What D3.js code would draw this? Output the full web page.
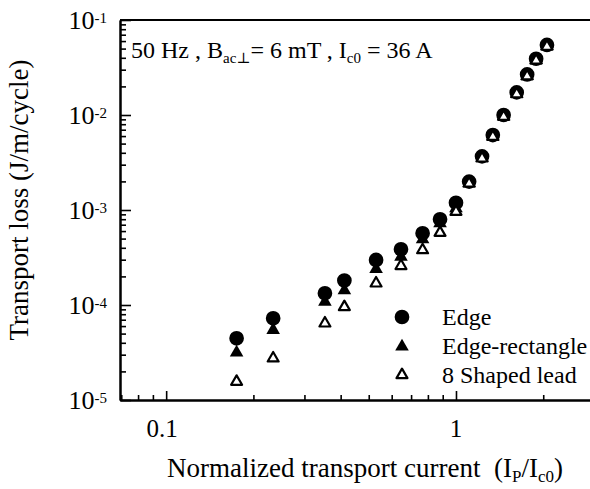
<!DOCTYPE html>
<html>
<head>
<meta charset="utf-8">
<script src="https://cdn.jsdelivr.net/npm/d3@7"></script>
<style>
  body { margin: 0; background: #fff; }
  svg { display: block; font-family: "Liberation Serif", "DejaVu Serif", serif; }
  text { white-space: pre; }
  .domain { stroke: #000; stroke-width: 2; }
  .tick line { stroke: #000; stroke-width: 1.6; }
</style>
</head>
<body>
<div id="chart"></div>
<script>
// normalized transport current Ip/Ic0
var current = [0.175, 0.234, 0.353, 0.412, 0.530, 0.646, 0.767, 0.881, 1.0,
               1.11, 1.23, 1.34, 1.46, 1.62, 1.76, 1.89, 2.06];
// transport loss, J/m/cycle
var edgeLoss = [4.46e-5, 7.24e-5, 1.33e-4, 1.81e-4, 2.98e-4, 3.86e-4, 5.69e-4, 7.98e-4, 1.19e-3,
                1.99e-3, 3.67e-3, 6.15e-3, 1.0e-2, 1.73e-2, 2.67e-2, 3.91e-2, 5.46e-2];
var rectLoss = [3.15e-5, 5.46e-5, 1.08e-4, 1.43e-4, 2.39e-4, 3.22e-4, 4.92e-4, 7.24e-4, 1.04e-3,
                1.93e-3, 3.56e-3, 5.97e-3, 9.7e-3, 1.68e-2, 2.59e-2, 3.79e-2, 5.3e-2];
var leadLoss = [1.56e-5, 2.75e-5, 6.41e-5, 9.53e-5, 1.69e-4, 2.58e-4, 3.79e-4, 5.77e-4, 9.59e-4,
                1.9e-3, 3.5e-3, 5.9e-3, 9.6e-3, 1.66e-2, 2.56e-2, 3.75e-2, 5.25e-2];
var xTickLabels = ["0.1", "1"];
var yTickExps = [-1, -2, -3, -4, -5];
var legendNames = ["Edge", "Edge-rectangle", "8 Shaped lead"];

var width = 590, height = 489;
var svg = d3.select('#chart').append('svg')
    .attr('width', width).attr('height', height);

var x = d3.scaleLog().domain([0.0693, 2.9]).range([120, 590]);
var y = d3.scaleLog().domain([1e-5, 1e-1]).range([400, 20]);

// minor ticks for each decade
function logMinors(lo, hi) {
    var out = [];
    for (var e = lo; e < hi; e++) {
        for (var k = 2; k <= 9; k++) out.push(k * Math.pow(10, e));
    }
    return out;
}
var xMinor = logMinors(-2, 1).filter(function (v) { return v > 0.0693 && v < 2.9 && v !== 0.1 && v !== 1; });
var yMinor = logMinors(-5, -1);

var xMinorAxis = d3.axisBottom(x).tickValues(xMinor).tickSize(-5).tickSizeOuter(0).tickFormat('');
var xMajorAxis = d3.axisBottom(x).tickValues([0.1, 1]).tickSize(-9).tickSizeOuter(0).tickFormat('');
var yMinorAxis = d3.axisLeft(y).tickValues(yMinor).tickSize(-6).tickSizeOuter(0).tickFormat('');
var yMajorAxis = d3.axisLeft(y).tickValues([1e-5, 1e-4, 1e-3, 1e-2, 1e-1]).tickSize(-11).tickSizeOuter(0).tickFormat('');

svg.append('g').attr('transform', 'translate(0,400)').call(xMinorAxis);
svg.append('g').attr('transform', 'translate(0,400)').call(xMajorAxis);
svg.append('g').attr('transform', 'translate(120,0)').call(yMinorAxis);
svg.append('g').attr('transform', 'translate(120,0)').call(yMajorAxis);

// top frame line
svg.append('line')
    .attr('x1', 120).attr('x2', 590)
    .attr('y1', y(1e-1)).attr('y2', y(1e-1))
    .attr('stroke', '#000').attr('stroke-width', 2);

// x tick labels
svg.selectAll('.xlab').data(xTickLabels).enter().append('text')
    .attr('x', function (d) { return x(+d) - (d === '0.1' ? 4 : 0); })
    .attr('y', 437)
    .attr('text-anchor', 'middle')
    .attr('font-size', 25)
    .text(function (d) { return d; });

// y tick labels 10^n
var ylab = svg.selectAll('.ylab').data(yTickExps).enter().append('text')
    .attr('x', 107)
    .attr('y', function (d) { return y(Math.pow(10, d)) + 8.5; })
    .attr('text-anchor', 'end')
    .attr('font-size', 26);
ylab.append('tspan').text('10');
ylab.append('tspan').attr('font-size', 15).attr('dy', -6).text(function (d) { return String(d); });

// axis titles
var xt = svg.append('text')
    .attr('x', 365).attr('y', 477)
    .attr('text-anchor', 'middle')
    .attr('font-size', 27);
xt.append('tspan').text('Normalized transport current  (I');
xt.append('tspan').attr('font-size', 17).attr('dy', 5).text('P');
xt.append('tspan').attr('dy', -5).text('/I');
xt.append('tspan').attr('font-size', 17).attr('dy', 5).text('c0');
xt.append('tspan').attr('dy', -5).text(')');

svg.append('text')
    .attr('transform', 'translate(28,200) rotate(-90)')
    .attr('text-anchor', 'middle')
    .attr('font-size', 27)
    .text('Transport loss (J/m/cycle)');

// condition annotation
var ann = svg.append('text')
    .attr('x', 131).attr('y', 58)
    .attr('font-size', 24);
ann.append('tspan').text('50 Hz , B');
ann.append('tspan').attr('font-size', 15).attr('dy', 5).text('ac\u22a5');
ann.append('tspan').attr('dy', -5).text('= 6 mT , I');
ann.append('tspan').attr('font-size', 15).attr('dy', 5).text('c0');
ann.append('tspan').attr('dy', -5).text(' = 36 A');

// markers
var circleSym = d3.symbol().type(d3.symbolCircle).size(170);
var triSym = d3.symbol().type(d3.symbolTriangle).size(80);
var openTriSym = d3.symbol().type(d3.symbolTriangle).size(52);

svg.append('g').selectAll('path').data(current).enter().append('path')
    .attr('d', circleSym)
    .attr('transform', function (d, i) { return 'translate(' + x(d) + ',' + y(edgeLoss[i]) + ')'; })
    .attr('fill', '#000');

svg.append('g').selectAll('path').data(current).enter().append('path')
    .attr('d', triSym)
    .attr('transform', function (d, i) { return 'translate(' + x(d) + ',' + y(rectLoss[i]) + ')'; })
    .attr('fill', '#000');

svg.append('g').selectAll('path').data(current).enter().append('path')
    .attr('d', openTriSym)
    .attr('transform', function (d, i) { return 'translate(' + x(d) + ',' + y(leadLoss[i]) + ')'; })
    .attr('fill', '#fff').attr('stroke', '#000').attr('stroke-width', 2.2)
    .attr('stroke-linejoin', 'round');

// legend
var legendY = [317, 346.5, 375];
var legendSyms = [circleSym, triSym, openTriSym];
var lg = svg.append('g');
legendNames.forEach(function (name, i) {
    var m = lg.append('path')
        .attr('d', legendSyms[i])
        .attr('transform', 'translate(402,' + legendY[i] + ')');
    if (i === 2) {
        m.attr('fill', '#fff').attr('stroke', '#000').attr('stroke-width', 2.2).attr('stroke-linejoin', 'round');
    } else {
        m.attr('fill', '#000');
    }
    lg.append('text')
        .attr('x', 442).attr('y', legendY[i] + 7.5)
        .attr('font-size', 24)
        .text(name);
});
</script>
</body>
</html>
